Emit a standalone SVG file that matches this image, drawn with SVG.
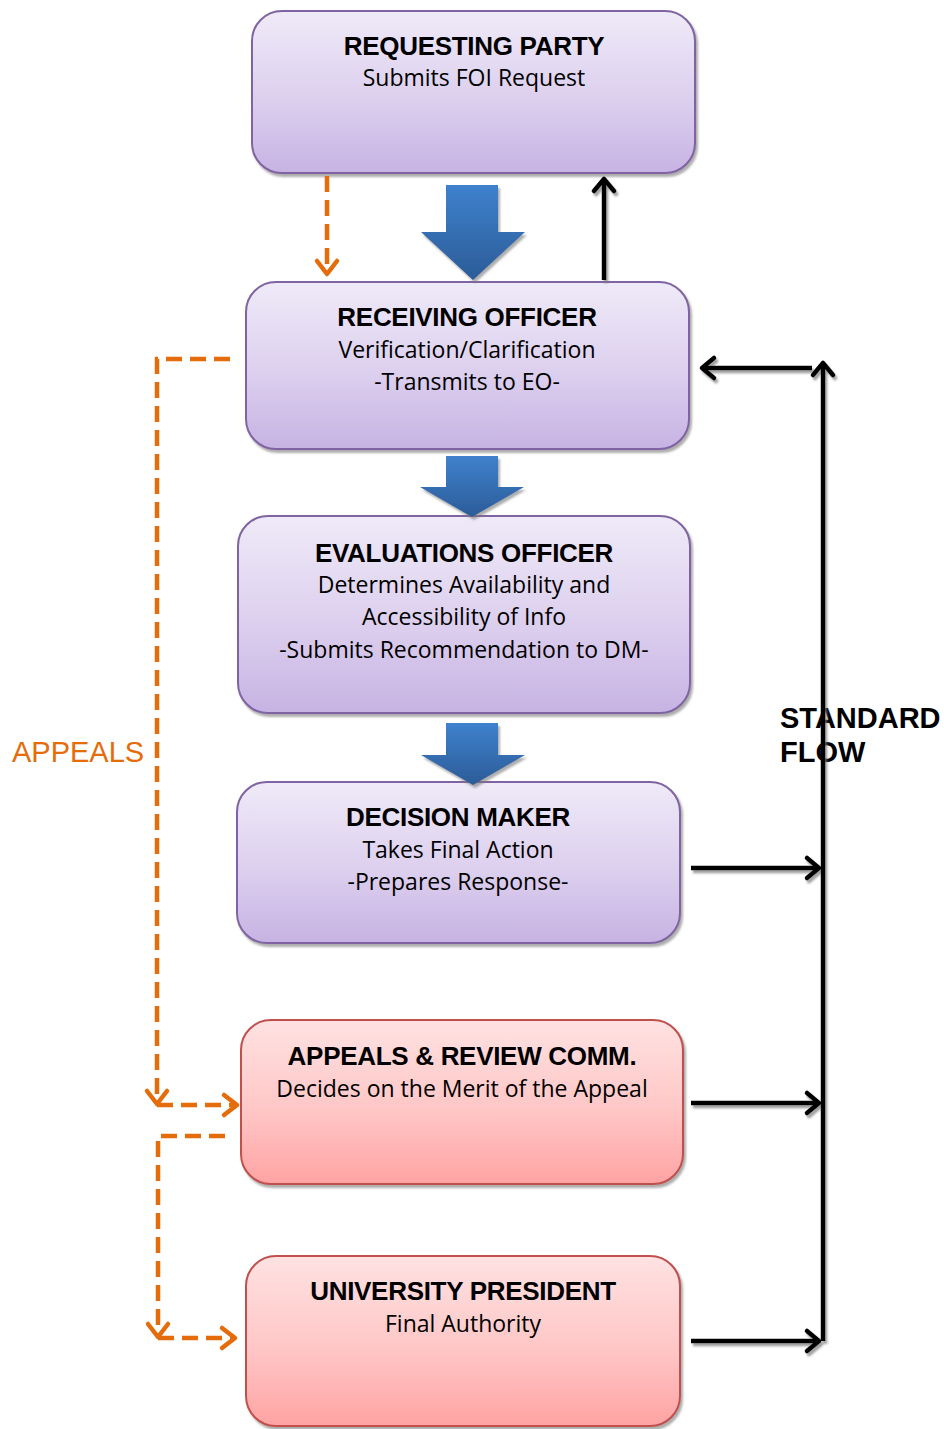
<svg xmlns="http://www.w3.org/2000/svg" width="944" height="1429" viewBox="0 0 944 1429">
<defs>
<linearGradient id="gPurple" x1="0" y1="0" x2="0" y2="1">
<stop offset="0" stop-color="#EFEAF8"/><stop offset="0.55" stop-color="#DCCFEE"/><stop offset="1" stop-color="#C7B3E3"/>
</linearGradient>
<linearGradient id="gPink" x1="0" y1="0" x2="0" y2="1">
<stop offset="0" stop-color="#FFE2E2"/><stop offset="0.55" stop-color="#FFC6C6"/><stop offset="1" stop-color="#FFA3A3"/>
</linearGradient>
<linearGradient id="gBlue" x1="0" y1="0" x2="0" y2="1">
<stop offset="0" stop-color="#3F81CD"/><stop offset="1" stop-color="#2B5C98"/>
</linearGradient>
<filter id="sh" x="-10%" y="-10%" width="130%" height="130%">
<feDropShadow dx="2" dy="3" stdDeviation="1" flood-color="#777" flood-opacity="0.6"/>
</filter>
<filter id="shl" filterUnits="userSpaceOnUse" x="0" y="0" width="944" height="1429">
<feDropShadow dx="2" dy="3" stdDeviation="0.8" flood-color="#777" flood-opacity="0.7"/>
</filter>
<marker id="ao" markerUnits="userSpaceOnUse" markerWidth="30" markerHeight="30" viewBox="-15 -15 30 30" refX="0" refY="0" orient="auto" overflow="visible">
<path d="M-13,-10 L0,0 L-13,10" fill="none" stroke="#E46C0A" stroke-width="4.5" stroke-linecap="round" stroke-linejoin="round"/>
</marker>
<marker id="ab" markerUnits="userSpaceOnUse" markerWidth="30" markerHeight="30" viewBox="-15 -15 30 30" refX="0" refY="0" orient="auto" overflow="visible">
<path d="M-12,-10 L0,0 L-12,10" fill="none" stroke="#000" stroke-width="4.5" stroke-linecap="round" stroke-linejoin="round"/>
</marker>
</defs>
<style>
.bp{fill:url(#gPurple);stroke:#8064A2;stroke-width:2;filter:url(#sh)}
.bk{fill:url(#gPink);stroke:#C0504D;stroke-width:2;filter:url(#sh)}
.t{font-family:"Liberation Sans",Arial,sans-serif;font-weight:bold;font-size:26px;letter-spacing:-0.3px;text-anchor:middle;fill:#000}
.s{font-family:"Open Sans","Liberation Sans",sans-serif;font-size:23px;text-anchor:middle;fill:#000}
.blk{fill:url(#gBlue);filter:url(#sh)}
.od{fill:none;stroke:#E46C0A;stroke-width:4.5;stroke-dasharray:16 8}
.os{fill:none;stroke:#E46C0A;stroke-width:4.5}
.bl{fill:none;stroke:#000;stroke-width:4.5}
</style>

<g id="n1">
<rect class="bp" x="252" y="11" width="443" height="162" rx="30"/>
<text class="t" x="474" y="55">REQUESTING PARTY</text>
<text class="s" x="474" y="86">Submits FOI Request</text>
</g>
<g id="n2">
<rect class="bp" x="246" y="282" width="443" height="167" rx="30"/>
<text class="t" x="467" y="326">RECEIVING OFFICER</text>
<text class="s" x="467" y="358">Verification/Clarification</text>
<text class="s" x="467" y="390">-Transmits to EO-</text>
</g>
<g id="n3">
<rect class="bp" x="238" y="516" width="452" height="197" rx="30"/>
<text class="t" x="464" y="562">EVALUATIONS OFFICER</text>
<text class="s" x="464" y="593">Determines Availability and</text>
<text class="s" x="464" y="625">Accessibility of Info</text>
<text class="s" x="464" y="658">-Submits Recommendation to DM-</text>
</g>
<g id="n4">
<rect class="bp" x="237" y="782" width="443" height="161" rx="30"/>
<text class="t" x="458" y="826">DECISION MAKER</text>
<text class="s" x="458" y="858">Takes Final Action</text>
<text class="s" x="458" y="890">-Prepares Response-</text>
</g>
<g id="n5">
<rect class="bk" x="241" y="1020" width="442" height="164" rx="30"/>
<text class="t" x="462" y="1065">APPEALS &amp; REVIEW COMM.</text>
<text class="s" x="462" y="1097">Decides on the Merit of the Appeal</text>
</g>
<g id="n6">
<rect class="bk" x="246" y="1256" width="434" height="170" rx="30"/>
<text class="t" x="463" y="1300">UNIVERSITY PRESIDENT</text>
<text class="s" x="463" y="1332">Final Authority</text>
</g>

<g id="labels">
<text x="12" y="762" font-family="Liberation Sans,Arial,sans-serif" font-size="29" fill="#E46C0A">APPEALS</text>
<text x="780" y="728" font-family="Liberation Sans,Arial,sans-serif" font-weight="bold" font-size="29" fill="#000">STANDARD</text>
<text x="780" y="762" font-family="Liberation Sans,Arial,sans-serif" font-weight="bold" font-size="29" fill="#000">FLOW</text>
</g>

<g id="connectors">
<polygon class="blk" points="446,185 498,185 498,232 525,232 473,280 421,232 446,232"/>
<polygon class="blk" points="446,456 498,456 498,487 524,487 472,517 420,487 446,487"/>
<polygon class="blk" points="446,723 498,723 498,755 525,755 473,785 421,755 446,755"/>

<path class="od" d="M327,176 V272"/>
<path class="os" d="M327,272 V274" marker-end="url(#ao)"/>
<path class="od" d="M230,359 H157 V1104" marker-end="url(#ao)"/>
<path class="od" d="M157,1105 H237" marker-end="url(#ao)"/>
<path class="od" d="M225,1136 H158 V1337" marker-end="url(#ao)"/>
<path class="od" d="M158,1338 H235" marker-end="url(#ao)"/>

<g filter="url(#shl)">
<path class="bl" d="M604,280 V179" marker-end="url(#ab)"/>
<path class="bl" d="M823,1341 V363" marker-end="url(#ab)"/>
<path class="bl" d="M812,368 H702" marker-end="url(#ab)"/>
<path class="bl" d="M691,868 H819" marker-end="url(#ab)"/>
<path class="bl" d="M691,1103 H819" marker-end="url(#ab)"/>
<path class="bl" d="M691,1341 H819" marker-end="url(#ab)"/>
</g>
</g>
</svg>
